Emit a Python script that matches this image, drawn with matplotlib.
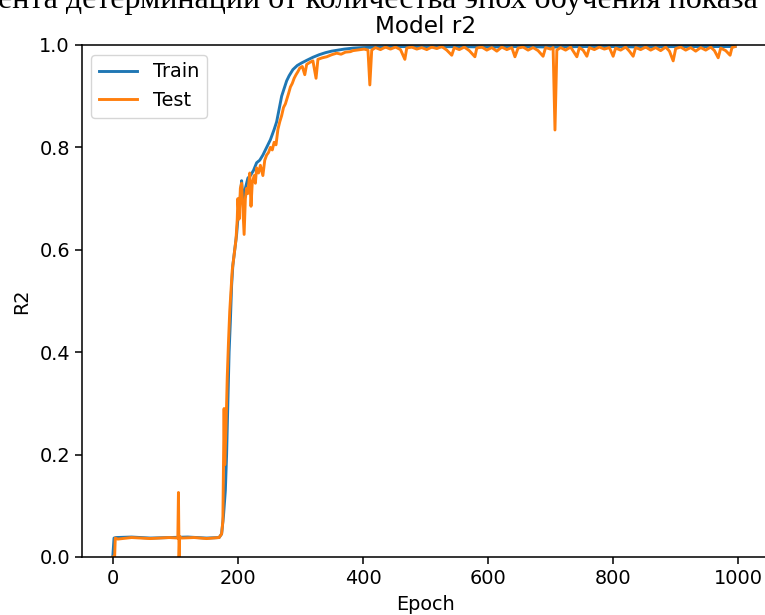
import matplotlib
matplotlib.use("Agg")
import matplotlib.pyplot as plt

TRAIN_EPOCH = [0, 2, 5, 30, 60, 90, 120, 150, 170, 174, 177, 180, 182, 184, 186, 188,
               190, 192, 195, 198, 200, 203, 206, 208, 212, 216, 220, 225, 230, 235,
               240, 246, 252, 258, 262, 266, 270, 274, 278, 282, 288, 295, 302, 310,
               320, 330, 340, 350, 360, 370, 385, 400, 430, 460, 500, 550, 600, 650,
               700, 750, 800, 850, 900, 950, 995]
TRAIN_R2 = [0.0, 0.037, 0.038, 0.039, 0.037, 0.038, 0.039, 0.037, 0.038, 0.045, 0.08,
            0.13, 0.20, 0.30, 0.40, 0.46, 0.53, 0.57, 0.60, 0.63, 0.66, 0.69, 0.735,
            0.70, 0.72, 0.74, 0.745, 0.755, 0.77, 0.775, 0.785, 0.80, 0.815, 0.835,
            0.85, 0.875, 0.90, 0.915, 0.93, 0.94, 0.952, 0.96, 0.965, 0.97, 0.976,
            0.981, 0.985, 0.988, 0.99, 0.992, 0.994, 0.995, 0.996, 0.997, 0.996,
            0.997, 0.996, 0.997, 0.996, 0.997, 0.997, 0.996, 0.997, 0.997, 0.997]

TEST_EPOCH = [0, 3, 4, 8, 30, 60, 90, 104, 105, 106, 107, 110, 130, 150, 170, 174,
              176, 178, 179, 181, 183, 185, 187, 189, 191, 193, 195, 197, 199, 200,
              202, 204, 206, 208, 210, 212, 214, 216, 219, 221, 223, 226, 228, 230,
              233, 236, 240, 243, 246, 249, 252, 255, 258, 261, 264, 267, 270, 273,
              276, 278, 281, 284, 287, 290, 293, 296, 299, 303, 307, 310, 315, 320,
              325, 328, 335, 342, 350, 358, 365, 372, 380, 384, 390, 396, 402, 408,
              411, 414, 420, 428, 436, 444, 452, 460, 467, 470, 478, 486, 494, 502,
              510, 518, 526, 534, 542, 546, 554, 562, 570, 579, 582, 590, 598, 606,
              614, 622, 630, 638, 643, 648, 656, 664, 672, 680, 688, 692, 700, 704,
              707, 710, 716, 724, 732, 742, 746, 752, 758, 762, 770, 778, 786, 794,
              800, 804, 812, 820, 826, 832, 836, 844, 852, 860, 868, 876, 884, 890,
              896, 900, 908, 916, 924, 932, 940, 948, 956, 962, 968, 972, 980, 987,
              990, 995]
TEST_R2 = [0.0, 0.0, 0.037, 0.035, 0.038, 0.036, 0.038, 0.037, 0.126, 0.0, 0.04,
           0.037, 0.038, 0.036, 0.038, 0.045, 0.07, 0.29, 0.18, 0.25, 0.35, 0.42,
           0.48, 0.52, 0.56, 0.58, 0.60, 0.62, 0.66, 0.70, 0.66, 0.72, 0.73, 0.68,
           0.63, 0.70, 0.72, 0.71, 0.75, 0.685, 0.73, 0.745, 0.73, 0.76, 0.75, 0.765,
           0.745, 0.775, 0.785, 0.79, 0.80, 0.795, 0.81, 0.805, 0.835, 0.85, 0.862,
           0.878, 0.885, 0.893, 0.905, 0.918, 0.925, 0.935, 0.942, 0.948, 0.955,
           0.958, 0.942, 0.962, 0.966, 0.969, 0.935, 0.972, 0.975, 0.977, 0.981,
           0.984, 0.982, 0.986, 0.987, 0.989, 0.99, 0.991, 0.992, 0.99, 0.922, 0.99,
           0.995, 0.991, 0.996, 0.992, 0.996, 0.991, 0.972, 0.994, 0.996, 0.992,
           0.995, 0.991, 0.996, 0.993, 0.997, 0.99, 0.98, 0.995, 0.991, 0.996, 0.989,
           0.977, 0.994, 0.996, 0.99, 0.995, 0.988, 0.996, 0.991, 0.995, 0.977,
           0.994, 0.996, 0.99, 0.995, 0.989, 0.978, 0.995, 0.992, 0.995, 0.834,
           0.99, 0.995, 0.99, 0.996, 0.977, 0.995, 0.99, 0.978, 0.995, 0.991, 0.996,
           0.992, 0.995, 0.978, 0.994, 0.99, 0.996, 0.988, 0.978, 0.995, 0.991,
           0.996, 0.99, 0.995, 0.989, 0.996, 0.988, 0.969, 0.993, 0.996, 0.99,
           0.995, 0.988, 0.995, 0.99, 0.996, 0.989, 0.975, 0.994, 0.989, 0.98,
           0.995, 0.997]

PAGE_TEXT = "ента детерминации от количества эпох обучения показа"

S = 1.39  # the screenshot is a default figure scaled up by about this much

fig = plt.figure(figsize=(7.65, 6.15), dpi=100)
ax = fig.add_axes([81.5 / 765, 1 - 557 / 615, 688 / 765, 512 / 615])

ax.plot(TRAIN_EPOCH, TRAIN_R2, color="#1f77b4", lw=1.5 * S, label="Train")
ax.plot(TEST_EPOCH, TEST_R2, color="#ff7f0e", lw=1.5 * S, label="Test")

ax.set_xlim(-50, 1050)
ax.set_ylim(0, 1)
ax.set_xticks([0, 200, 400, 600, 800, 1000])
ax.set_yticks([0.0, 0.2, 0.4, 0.6, 0.8, 1.0])
ax.tick_params(labelsize=10 * S, length=3.5 * S, width=0.8 * S)
for sp in ax.spines.values():
    sp.set_linewidth(0.8 * S)

ax.set_title("Model r2", fontsize=12 * S, pad=6 * S)
ax.set_xlabel("Epoch", fontsize=10 * S, labelpad=4 * S)
ax.set_ylabel("R2", fontsize=10 * S, labelpad=4 * S)
ax.legend(loc="upper left", fontsize=10 * S)

# cut-off line of the surrounding document text
fig.text(-0.003, 1 - 8 / 615, PAGE_TEXT, family="Liberation Serif", fontsize=23,
         ha="left", va="baseline")

fig.savefig("out.png", dpi=100)
